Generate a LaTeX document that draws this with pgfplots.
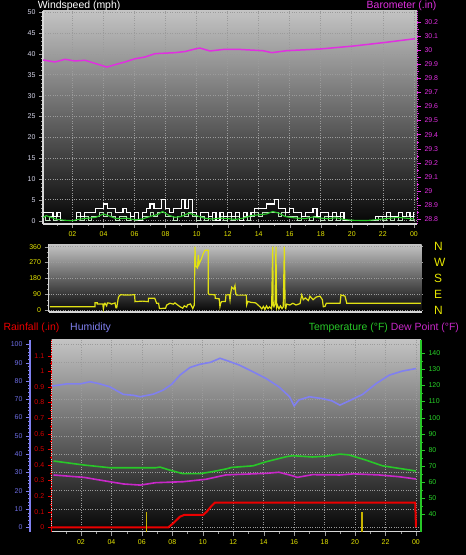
\documentclass[border=0pt]{standalone}
\usepackage{pgfplots}
\pgfplotsset{compat=1.18}
\usepackage{fontspec}
\setmainfont{Liberation Sans}
\definecolor{baro}{RGB}{224,48,224}
\definecolor{dew}{RGB}{200,40,200}
\definecolor{temp}{RGB}{40,200,40}
\definecolor{hum}{RGB}{128,128,240}
\definecolor{rain}{RGB}{235,0,0}
\definecolor{ylab}{RGB}{230,230,0}
\definecolor{dirc}{RGB}{225,225,20}
\definecolor{frame}{RGB}{215,215,215}
\definecolor{gridc}{RGB}{155,155,155}
\definecolor{wlab}{RGB}{215,215,235}
\definecolor{hlab}{RGB}{110,110,230}
\definecolor{rlab}{RGB}{215,0,0}
\definecolor{tlab}{RGB}{40,210,40}
\definecolor{spdc}{RGB}{195,225,195}
\definecolor{rrc}{RGB}{200,180,0}
\definecolor{bgtop}{RGB}{195,195,195}
\definecolor{bgbot}{RGB}{5,5,5}
\pgfplotsset{
  base/.style={scale only axis, anchor=south west,
    tick label style={font=\fontsize{7}{8}\selectfont},
    /pgf/number format/assume math mode=true,
    tick align=outside, major tick length=4bp, minor tick length=2bp},
}
\pgfplotstableread{
x y
0 2
0.25 2
0.5 2
0.75 1
1 2
1.25 0
1.5 0
1.75 0
2 0
2.25 2
2.5 1
2.75 2
3 2
3.25 2
3.5 3
3.75 3
4 4
4.25 3
4.5 3
4.75 2
5 2
5.25 3
5.5 2
5.75 1
6 2
6.25 0
6.5 2
6.75 3
7 4
7.25 3
7.5 3
7.75 5
8 3
8.25 2
8.5 3
8.75 3
9 5
9.25 3
9.5 5
9.75 2
10 1
10.25 2
10.5 2
10.75 1
11 2
11.25 0
11.5 2
11.75 1
12 2
12.25 1
12.5 2
12.75 0
13 2
13.25 1
13.5 2
13.75 3
14 3
14.25 3
14.5 4
14.75 4
15 5
15.25 3
15.5 3
15.75 2
16 3
16.25 2
16.5 2
16.75 1
17 2
17.25 2
17.5 3
17.75 1
18 2
18.25 2
18.5 1
18.75 2
19 1
19.25 2
19.5 0
21.5 1
22 1
22.25 2
22.5 1
23 2
23.25 1
23.5 2
23.75 1
24 2
}\gust
\pgfplotstableread{
x y
0 1
0.25 0
0.5 1
0.75 0
1 1
1.25 0
2.25 1
2.5 0
2.75 1
3 0
3.25 1
3.75 2
4 1
4.25 2
4.5 1
4.75 0
5 1
5.5 0
5.75 1
6 0
6.5 1
7 2
7.25 1
7.5 2
8 1
8.5 0
8.75 1
9 2
9.25 1
9.5 2
9.75 1
10 0
10.25 1
10.5 0
10.75 1
11 0
11.5 1
11.75 0
12 1
12.25 0
12.5 1
12.75 0
13 1
13.25 0
13.5 1
13.75 2
14 1
14.25 2
15.25 1
15.5 2
15.75 1
16.5 0
16.75 1
17.25 0
17.5 1
18 0
18.25 1
18.5 0
18.75 1
19 0
19.25 1
19.5 0
21.75 1
22 0
22.25 1
22.5 0
22.75 1
23 0
23.25 1
23.75 0
24 1
}\speed
\begin{document}
\begin{tikzpicture}
\useasboundingbox (0,0) rectangle (466bp,555bp);
\fill[black] (0,0) rectangle (466bp,555bp);
% ---------------- top panel: wind ----------------
\begin{axis}[base, at={(43bp,331bp)}, width=374bp, height=213bp,
  xmin=0.1, xmax=24.2, ymin=-0.8, ymax=50.3,
  axis x line*=bottom, axis y line*=left,
  axis line style={frame, line width=1.5bp},
  xtick={2,4,...,24}, xticklabels={02,04,06,08,10,12,14,16,18,20,22,00},
  minor xtick={1,3,...,23},
  x tick label style={text=ylab},
  ytick={0,5,...,50}, minor y tick num=4,
  y tick label style={text=wlab},
  tick style={gridc},
  grid=major, grid style={gridc, dotted, line width=0.7bp},
  axis background/.style={shade, top color=bgtop, bottom color=bgbot},
]
\addplot[spdc, line width=1bp, const plot] table {\speed};
\addplot[white, line width=1.2bp, const plot] table {\gust};
\addplot[temp, line width=1.1bp] coordinates {
(0,0.5) (0.3,1.2) (0.6,0.8) (1,0.3) (1.5,0.1) (2,0) (2.5,0.4) (3,0.6) (3.5,0.8) (4,1.6) (4.3,1.2) (4.8,0.5) (5.5,0.6) (6,0.2) (6.5,0.4) (7,1.0) (7.5,1.5) (7.8,2.2) (8.2,1.3) (8.6,0.8) (9,1.0) (9.5,1.8) (10,1.2) (10.5,0.6) (11,0.4) (11.5,0.6) (12,0.5) (12.5,0.3) (13,0.6) (13.5,1.2) (14,1.4) (14.5,1.6) (14.9,2.2) (15.3,1.8) (15.7,1.0) (16,0.8) (16.5,0.6) (17,0.5) (17.5,0.9) (18,0.6) (18.5,0.5) (19,0.7) (19.5,0.3) (20,0.1) (20.5,0.05) (21,0.05) (21.5,0.2) (22,0.4) (22.5,0.6) (23,0.8) (23.5,0.6) (24,0.4)};
\end{axis}
\begin{axis}[base, at={(43bp,331bp)}, width=374bp, height=213bp,
  xmin=0.1, xmax=24.2, ymin=28.766, ymax=30.2766,
  axis x line=none, axis y line*=right,
  axis line style={baro, densely dotted, line width=1bp},
  ytick={28.8,28.9,29,29.1,29.2,29.3,29.4,29.5,29.6,29.7,29.8,29.9,30,30.1,30.2},
  minor y tick num=1,
  y tick label style={text=baro},
  tick style={baro},
]
\addplot[baro, line width=1.5bp] coordinates {
(0.1,29.929) (0.87,29.915) (1.52,29.934) (2.16,29.922) (2.81,29.927) (3.77,29.894) (4.22,29.879) (4.74,29.896) (5.38,29.915) (6.03,29.938) (6.67,29.95) (7.32,29.974) (8.6,29.981) (9.25,29.989) (9.89,30.007) (10.2,30.014) (10.86,29.993) (11.82,30.005) (12.79,30.004) (14.27,29.995) (14.84,29.981) (15.8,29.995) (17.95,30.007) (20.09,30.028) (22.25,30.055) (24.07,30.08)};
\end{axis}
\node[anchor=base west, text=white, font=\fontsize{10.5}{12}\selectfont] at (34.3bp,546bp) {Windspeed (mph)};
\node[anchor=base east, text=baro, font=\fontsize{10.5}{12}\selectfont] at (440bp,546bp) {Barometer (.in)};
% ---------------- middle panel: direction ----------------
\begin{axis}[base, at={(48.5bp,243bp)}, width=373.2bp, height=67.7bp,
  xmin=0.454, xmax=24.5, ymin=-9.6, ymax=373.6,
  axis x line*=bottom, axis y line*=left,
  axis line style={frame, line width=1.5bp},
  xtick=\empty,
  ytick={0,90,180,270,360}, minor y tick num=2,
  y tick label style={text=ylab},
  tick style={gridc},
  ymajorgrids, grid style={gridc, dotted, line width=0.7bp},
  axis background/.style={shade, top color=bgtop, bottom color=bgbot},
]
\addplot[dirc, line width=1.2bp] coordinates {
(0.55,20) (3.45,20) (3.45,43) (3.60,43) (3.60,36) (3.95,36) (3.99,8) (4.05,36) (4.09,40) (4.2,25) (4.25,42) (4.42,40) (4.5,35) (4.74,42) (4.8,14) (4.85,14) (4.95,70) (5.0,80) (5.10,88) (5.5,86) (6.0,88) (6.03,49) (6.5,52) (6.89,49) (6.89,68) (7.3,68) (7.42,40) (7.55,40) (7.6,10) (8.0,12) (8.07,30) (8.28,40) (8.5,35) (8.6,42) (8.93,20) (9.1,12) (9.2,25) (9.36,18) (9.4,30) (9.6,36) (9.75,10) (9.85,30) (9.89,360) (9.95,250) (10.05,240) (10.11,313) (10.15,260) (10.22,275) (10.3,290) (10.43,322) (10.54,340) (10.75,340) (10.75,96) (10.8,90) (11.18,88) (11.2,68) (11.45,65) (11.5,20) (11.55,40) (11.61,49) (11.85,50) (11.89,87) (12.1,88) (12.15,58) (12.2,100) (12.26,131) (12.4,120) (12.47,140) (12.52,95) (12.58,86) (13.2,86) (13.22,30) (13.3,50) (13.5,45) (13.8,42) (14.08,20) (14.2,8) (14.3,22) (14.4,5) (14.5,25) (14.6,10) (14.7,20) (14.83,8) (14.90,360) (14.93,30) (14.98,20) (15.05,35) (15.11,360) (15.15,15) (15.2,30) (15.3,8) (15.4,25) (15.5,10) (15.58,20) (15.65,360) (15.7,15) (15.74,10) (15.8,35) (16.0,30) (16.2,40) (16.4,30) (16.66,38) (16.77,87) (16.87,60) (17.0,70) (17.2,55) (17.3,80) (17.5,60) (17.7,75) (17.95,80) (18.1,60) (18.16,20) (18.27,22) (18.35,40) (19.24,40) (19.3,87) (19.56,80) (19.67,40) (24.44,40)};
\end{axis}
\begin{axis}[base, at={(48.5bp,243bp)}, width=373.2bp, height=67.7bp,
  xmin=0.454, xmax=24.5, ymin=-9.6, ymax=373.6,
  axis x line=none, axis y line*=right,
  y axis line style={draw=none},
  ytick={0,90,180,270,360}, yticklabels={N,E,S,W,N},
  major tick length=0pt,
  y tick label style={text=ylab, font=\fontsize{12}{13}\selectfont, xshift=9bp},
]
\end{axis}
% ---------------- bottom panel ----------------
\begin{axis}[base, at={(51.7bp,23.3bp)}, width=369.3bp, height=191.7bp,
  xmin=0.08, xmax=24.33, ymin=-2.35, ymax=102.4,
  axis x line*=bottom, axis y line*=left,
  x axis line style={frame, line width=1.5bp},
  y axis line style={frame, line width=1bp},
  xtick={2,4,...,24}, xticklabels={02,04,06,08,10,12,14,16,18,20,22,00},
  minor xtick={1,3,...,23},
  x tick label style={text=ylab},
  ytick={0,10,...,100}, yticklabels={},
  y tick style={draw=none},
  tick style={gridc},
  grid=major, grid style={gridc, dotted, line width=0.7bp},
  axis background/.style={shade, top color=bgtop, bottom color=bgbot},
]
\addplot[hum, line width=1.6bp] coordinates {
(0.08,77.2) (1.06,78.4) (1.94,78.4) (2.6,79.6) (3.25,78.4) (3.9,76.8) (4.78,72.7) (5.44,72.2) (5.88,71.4) (6.75,72.8) (7.4,75.0) (7.96,78.2) (8.5,83.2) (9.16,87.4) (9.8,89.1) (10.5,90.2) (11.13,92.4) (11.5,91.4) (11.8,90.5) (12.4,88.7) (13.3,85.0) (14.15,81.4) (15.0,76.8) (15.7,71.4) (16.0,66.4) (16.3,69.6) (17.0,71.4) (17.9,70.3) (18.5,69.1) (19.0,66.8) (19.6,69.1) (20.5,72.7) (21.4,78.7) (22.25,83.2) (23.1,85.4) (24.0,86.8)};
\end{axis}
\begin{axis}[base, at={(51.7bp,23.3bp)}, width=369.3bp, height=191.7bp,
  xmin=0.08, xmax=24.33, ymin=-0.028, ymax=1.2006,
  axis x line=none, axis y line*=left,
  axis line style={rain, densely dotted, line width=1.2bp},
  ytick={0,0.1,0.2,0.3,0.4,0.5,0.6,0.7,0.8,0.9,1,1.1},
  minor y tick num=1,
  y tick label style={text=rlab},
  tick style={rain},
]
\addplot[rain, line width=2bp] coordinates {
(0.08,0) (7.74,0) (8.06,0.026) (8.5,0.068) (8.79,0.08) (10.03,0.08) (10.26,0.1) (10.58,0.138) (10.8,0.158) (23.95,0.158) (24.0,0)};
\addplot[rrc, line width=1.3bp] coordinates {(6.32,-0.03) (6.32,0.1)};
\addplot[rrc, line width=1.3bp] coordinates {(20.45,-0.03) (20.45,0.1)};
\end{axis}
\begin{axis}[base, at={(51.7bp,23.3bp)}, width=369.3bp, height=191.7bp,
  xmin=0.08, xmax=24.33, ymin=29.0, ymax=148.3,
  axis x line=none, axis y line*=right,
  axis line style={temp, line width=1.2bp},
  ytick={40,50,...,140}, minor y tick num=1,
  y tick label style={text=tlab},
  tick style={temp},
]
\addplot[temp, line width=1.6bp] coordinates {
(0.2,73) (2.2,70.5) (3.9,68.8) (6.9,68.8) (7.2,69.2) (7.8,67.4) (8.7,65.1) (9.8,65.1) (10.6,66.3) (11.5,68) (11.9,69) (13.3,70) (14.15,72.5) (15.5,75.7) (15.9,76.3) (17.2,75.5) (18.1,76) (19.0,77.3) (19.6,76.8) (20.7,73.6) (21.8,70) (22.9,68.4) (24.0,66.8)};
\addplot[dew, line width=1.6bp] coordinates {
(0.2,64.3) (2.2,62.8) (3.9,60.1) (4.8,58.7) (5.9,58) (6.9,59.5) (8.7,60.1) (10.2,61.6) (11.5,64.3) (11.9,64.5) (14.15,65.3) (15.0,66) (15.9,63.8) (16.2,62.8) (17.2,64.5) (19.0,64.3) (19.9,65) (21.6,64.3) (22.9,63.2) (24.0,61.8)};
\end{axis}
\begin{axis}[base, at={(30bp,23.3bp)}, width=1bp, height=191.7bp,
  xmin=0, xmax=1, ymin=-2.35, ymax=102.4,
  hide x axis, axis y line*=left,
  axis line style={hum, line width=1.5bp},
  ytick={0,10,...,100}, minor y tick num=4,
  y tick label style={text=hlab},
  tick style={hum},
]
\end{axis}
\node[anchor=base west, text=rain, font=\fontsize{10.5}{12}\selectfont] at (0bp,224bp) {Rainfall (.in)};
\node[anchor=base west, text=hum, font=\fontsize{10.5}{12}\selectfont] at (66.7bp,224bp) {Humidity};
\node[anchor=base east, font=\fontsize{10.5}{12}\selectfont] at (462.5bp,224.3bp) {\textcolor{temp}{Temperature (°F)} \textcolor{dew}{Dew Point (°F)}};
\end{tikzpicture}
\end{document}
